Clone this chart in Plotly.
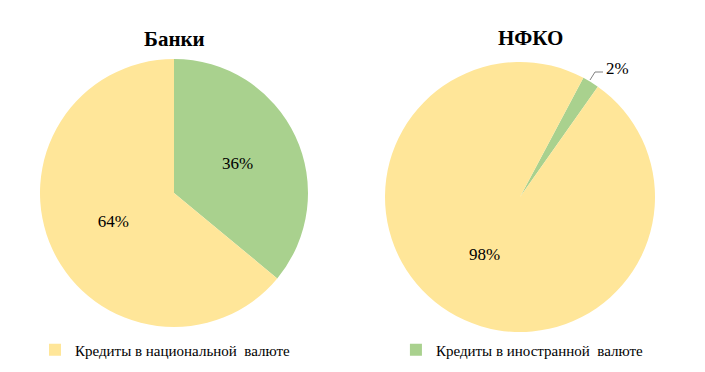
import plotly.graph_objects as go

W, H = 705, 372
OFF = 8  # page body margin
FW, FH = W - OFF, H - OFF

PAD = "\u00a0" * 27  # invisible trailing padding to space the legend entries apart
labels = ["Кредиты в иностранной  валюте", "Кредиты в национальной  валюте" + PAD]
banks_values = [36, 64]
nfko_values = [2, 98]
banks_text = ["36%", "64%"]
nfko_text = ["", "98%"]
nfko_small_label = "2%"
titles = ["Банки", "НФКО"]
colors = ["#A9D18E", "#FFE699"]
FONT = "Liberation Serif, Times New Roman, serif"

def px(x):
    return (x - OFF) / FW

def py(y):
    return 1 - (y - OFF) / FH

def dom(x0, x1, y0, y1):
    return dict(x=[px(x0), px(x1)], y=[py(y1), py(y0)])

fig = go.Figure()
fig.add_trace(go.Pie(
    labels=labels, values=banks_values, text=banks_text, textinfo="text",
    textposition="inside", insidetextorientation="horizontal",
    marker=dict(colors=colors, line=dict(width=0)),
    sort=False, direction="clockwise", rotation=0,
    domain=dom(40, 308, 59, 327), showlegend=True,
    textfont=dict(family=FONT, size=17, color="black"),
    hoverinfo="label+percent",
))
fig.add_trace(go.Pie(
    labels=labels, values=nfko_values, text=nfko_text, textinfo="text",
    textposition="inside", insidetextorientation="horizontal",
    marker=dict(colors=colors, line=dict(width=0)),
    sort=False, direction="clockwise", rotation=28,
    domain=dom(385, 655, 62, 332), showlegend=False,
    textfont=dict(family=FONT, size=17, color="black"),
    hoverinfo="label+percent",
))

annotations = [
    dict(text="<b>" + titles[0] + "</b>", x=px(174), y=py(39), xref="paper", yref="paper",
         xanchor="center", yanchor="middle", showarrow=False,
         font=dict(family=FONT, size=21, color="black")),
    dict(text="<b>" + titles[1] + "</b>", x=px(530), y=py(38), xref="paper", yref="paper",
         xanchor="center", yanchor="middle", showarrow=False,
         font=dict(family=FONT, size=21, color="black")),
    dict(text=nfko_small_label, x=px(604), y=py(69), xref="paper", yref="paper",
         xanchor="left", yanchor="middle", showarrow=False,
         font=dict(family=FONT, size=17, color="black")),
]
fig.update_layout(
    width=FW, height=FH, margin=dict(l=0, r=0, t=0, b=0, autoexpand=False),
    paper_bgcolor="white", plot_bgcolor="white",
    annotations=annotations,
    shapes=[dict(type="path", xref="paper", yref="paper",
                 path=f"M {px(590)} {py(80)} L {px(595)} {py(72)} L {px(603)} {py(72)}",
                 line=dict(color="#808080", width=1))],
    legend=dict(orientation="h", x=px(35), y=py(350), yanchor="middle", xanchor="left",
                traceorder="reversed",
                font=dict(family=FONT, size=15, color="black"),
                itemwidth=30, tracegroupgap=0, bgcolor="rgba(0,0,0,0)"),
)
fig.write_html("out.html")
